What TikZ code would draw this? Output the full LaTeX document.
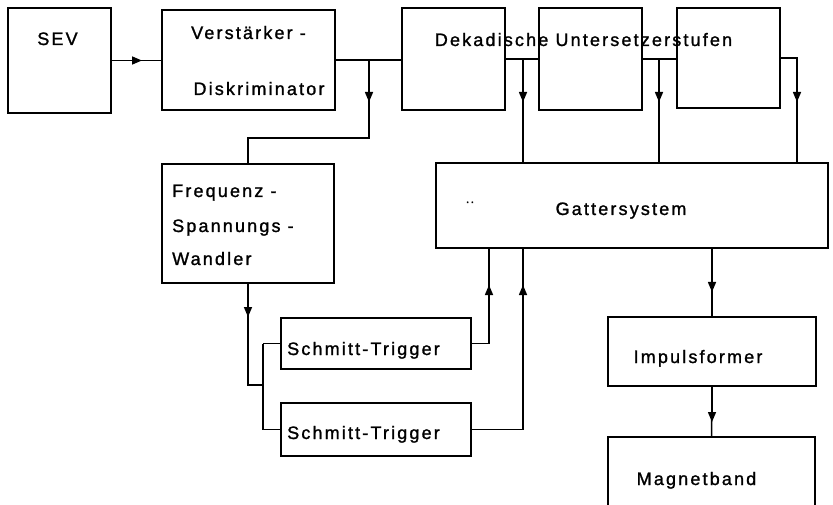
\documentclass[tikz,border=0pt]{standalone}
\usepackage{fontspec}
\setmainfont{Liberation Sans}[LetterSpace=12, FakeBold=1.3]
\usetikzlibrary{arrows.meta}
\begin{document}
\begin{tikzpicture}[x=1pt,y=-1pt,
  box/.style={draw, line width=1.5pt, inner sep=0pt, rectangle},
  lbl/.style={font=\fontsize{18}{20}\selectfont, inner sep=0pt, anchor=base},
  lbll/.style={lbl, anchor=base west},
  wire/.style={line width=1.5pt},
  arr/.style={line width=1.5pt, -{Triangle[length=10pt,width=8pt]}}]
\useasboundingbox (0,0) rectangle (833,505);
\clip (0,0) rectangle (833,505);
% boxes
\node[box, minimum width=103pt, minimum height=105pt] (sev) at (59.5,60.5) {};
\node[box, minimum width=173pt, minimum height=100pt] (verst) at (248.5,60) {};
\node[box, minimum width=103pt, minimum height=102pt] (dek1) at (453.5,59) {};
\node[box, minimum width=103pt, minimum height=102pt] (dek2) at (590.5,59) {};
\node[box, minimum width=103pt, minimum height=100pt] (dek3) at (728.5,58) {};
\node[box, minimum width=392pt, minimum height=85pt] (gatter) at (632,205.5) {};
\node[box, minimum width=172pt, minimum height=119pt] (freq) at (248,223.5) {};
\node[box, minimum width=190pt, minimum height=51pt] (st1) at (376,343.5) {};
\node[box, minimum width=190pt, minimum height=53pt] (st2) at (376,429.5) {};
\node[box, minimum width=208pt, minimum height=69pt] (imp) at (712,351.5) {};
\node[box, minimum width=207pt, minimum height=83pt] (mag) at (711.5,478.5) {};
% texts
\node[lbl] (tsev) at (57.5,45) {SEV};
\node[lbl] (tv1) at (248.5,39) {Verstärker -};
\node[lbl] (tv2) at (259,95) {Diskriminator};
\node[lbl] (tdek) at (583.5,46) {Dekadische Untersetzerstufen};
\node[lbl] (tgat) at (621,215) {Gattersystem};
\node[lbl, font=\fontsize{12}{12}\selectfont] (tdots) at (470,203) {..};
\node[lbll] (tf1) at (172,197) {Frequenz -};
\node[lbll] (tf2) at (172,232) {Spannungs -};
\node[lbll] (tf3) at (172,265) {Wandler};
\node[lbll] (ts1) at (287,355) {Schmitt-Trigger};
\node[lbll] (ts2) at (287,439) {Schmitt-Trigger};
\node[lbl] (timp) at (698,363) {Impulsformer};
\node[lbl] (tmag) at (696.5,485) {Magnetband};
% coordinates
\coordinate (a1) at (142,60.5);
\coordinate (b1) at (369,60);
\coordinate (a2) at (369,102);
\coordinate (k1) at (369,138);
\coordinate (b2) at (523,59);
\coordinate (a3) at (523,102);
\coordinate (b3) at (659,59);
\coordinate (a4) at (659,102);
\coordinate (b4) at (797,58);
\coordinate (a5) at (797,102);
\coordinate (a6) at (248,317);
\coordinate (k2) at (248,385);
\coordinate (k3) at (263,385);
\coordinate (k4) at (263,343.5);
\coordinate (k5) at (263,429.5);
\coordinate (k6) at (489,343.5);
\coordinate (a7) at (489,285);
\coordinate (k7) at (523,429.5);
\coordinate (a8) at (523,285);
\coordinate (g1) at (712,248);
\coordinate (a9) at (712,292);
\coordinate (a10) at (712,422);
% connectors
\draw[wire] (sev.east) -- (sev.east -| verst.west);
\draw[arr] (sev.east) -- (a1);
\draw[wire] (verst.east) -- (verst.east -| dek1.west);
\draw[wire] (b1) -- (k1) -- (freq.north |- k1) -- (freq.north);
\draw[arr] (b1) -- (a2);
\draw[wire] (dek1.east) -- (dek1.east -| dek2.west);
\draw[wire] (b2) -- (b2 |- gatter.north);
\draw[arr] (b2) -- (a3);
\draw[wire] (dek2.east) -- (dek2.east -| dek3.west);
\draw[wire] (b3) -- (b3 |- gatter.north);
\draw[arr] (b3) -- (a4);
\draw[wire] (dek3.east) -- (b4) -- (b4 |- gatter.north);
\draw[arr] (b4) -- (a5);
\draw[wire] (freq.south) -- (k2) -- (k3);
\draw[arr] (freq.south) -- (a6);
\draw[wire] (k4) -- (k5);
\draw[wire] (k4) -- (st1.west);
\draw[wire] (k5) -- (st2.west);
\draw[wire] (st1.east) -- (k6) -- (k6 |- gatter.south);
\draw[arr] (k6) -- (a7);
\draw[wire] (st2.east) -- (k7) -- (k7 |- gatter.south);
\draw[arr] (k7) -- (a8);
\draw[wire] (g1) -- (imp.north);
\draw[arr] (g1) -- (a9);
\draw[wire] (imp.south) -- (mag.north);
\draw[arr] (imp.south) -- (a10);
\end{tikzpicture}
\end{document}
